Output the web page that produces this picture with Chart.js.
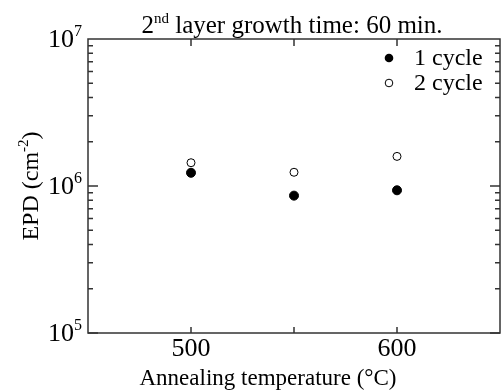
<!DOCTYPE html>
<html>
<head>
<meta charset="utf-8">
<script src="https://cdn.jsdelivr.net/npm/chart.js@4/dist/chart.umd.min.js"></script>
<style>
  body { margin: 0; background: #fff; }
  #wrap { width: 501px; height: 391px; }
</style>
</head>
<body>
<div id="wrap"><canvas id="myChart" width="501" height="391"></canvas></div>
<script>
// datos
const temperaturas = [500, 550, 600];
const cicloUno = [1.23e6, 0.86e6, 0.935e6];
const cicloDos = [1.44e6, 1.24e6, 1.59e6];
const ticksX = [500, 550, 600];
const etiquetasX = [500, 600];
const ticksY = [1e5, 1e6, 1e7];
const etiquetasSerie = ['1 cycle', '2 cycle'];

const fuente = "'Liberation Serif', 'Times New Roman', serif";
const colorEje = '#333';

function puntos(valores) {
    return temperaturas.map((t, i) => ({ x: t, y: valores[i] }));
}

// texto con superindice
function textoSup(ctx, base, sup, x, y, tam, align) {
    ctx.font = tam + 'px ' + fuente;
    const wBase = ctx.measureText(base).width;
    ctx.font = Math.round(tam * 0.62) + 'px ' + fuente;
    const wSup = ctx.measureText(sup).width;
    let x0 = x;
    if (align === 'right') x0 = x - wBase - wSup;
    if (align === 'center') x0 = x - (wBase + wSup) / 2;
    ctx.textAlign = 'left';
    ctx.font = tam + 'px ' + fuente;
    ctx.fillText(base, x0, y);
    ctx.font = Math.round(tam * 0.62) + 'px ' + fuente;
    ctx.fillText(sup, x0 + wBase, y - tam * 0.42);
    return wBase + wSup;
}

const ejesPlugin = {
    id: 'ejes',
    afterDraw(chart) {
        const ctx = chart.ctx;
        const a = chart.chartArea;
        const sx = chart.scales.x;
        const sy = chart.scales.y;
        ctx.save();
        ctx.strokeStyle = colorEje;
        ctx.lineWidth = 1.5;
        ctx.strokeRect(a.left, a.top, a.right - a.left, a.bottom - a.top);

        ctx.beginPath();
        ticksX.forEach(v => {
            const px = sx.getPixelForValue(v);
            ctx.moveTo(px, a.bottom); ctx.lineTo(px, a.bottom - 6);
            ctx.moveTo(px, a.top); ctx.lineTo(px, a.top + 7);
        });
        for (let e = 5; e < 7; e++) {
            for (let k = 1; k <= 9; k++) {
                const v = k * Math.pow(10, e);
                const py = sy.getPixelForValue(v);
                const largo = k === 1 ? 10 : 5;
                ctx.moveTo(a.left, py); ctx.lineTo(a.left + largo, py);
                ctx.moveTo(a.right, py); ctx.lineTo(a.right - largo, py);
            }
        }
        ctx.stroke();

        ctx.fillStyle = '#000';
        ctx.textAlign = 'center';
        ctx.textBaseline = 'alphabetic';
        ctx.font = '26px ' + fuente;
        etiquetasX.forEach(v => {
            ctx.fillText(String(v), sx.getPixelForValue(v), 356);
        });
        ticksY.forEach(v => {
            const py = sy.getPixelForValue(v);
            textoSup(ctx, '10', String(Math.round(Math.log10(v))), 82, py + 8, 26, 'right');
        });

        // titulo
        const resto = ' layer growth time: 60 min.';
        ctx.font = '25px ' + fuente;
        const wResto = ctx.measureText(resto).width;
        const w2 = ctx.measureText('2').width;
        ctx.font = '15px ' + fuente;
        const wNd = ctx.measureText('nd').width;
        let x0 = 292 - (w2 + wNd + wResto) / 2;
        ctx.textAlign = 'left';
        ctx.font = '25px ' + fuente;
        ctx.fillText('2', x0, 33);
        ctx.font = '15px ' + fuente;
        ctx.fillText('nd', x0 + w2, 23);
        ctx.font = '25px ' + fuente;
        ctx.fillText(resto, x0 + w2 + wNd, 33);

        // titulo eje x
        ctx.textAlign = 'center';
        ctx.font = '23px ' + fuente;
        ctx.fillText('Annealing temperature (\u00b0C)', 268, 385);

        // titulo eje y
        ctx.save();
        ctx.translate(38, 186);
        ctx.rotate(-Math.PI / 2);
        ctx.font = '24px ' + fuente;
        const base = 'EPD (cm';
        const wb = ctx.measureText(base).width;
        ctx.font = '15px ' + fuente;
        const ws = ctx.measureText('-2').width;
        ctx.font = '24px ' + fuente;
        const wc = ctx.measureText(')').width;
        let xx = -(wb + ws + wc) / 2;
        ctx.textAlign = 'left';
        ctx.fillText(base, xx, 0);
        ctx.font = '15px ' + fuente;
        ctx.fillText('-2', xx + wb, -10);
        ctx.font = '24px ' + fuente;
        ctx.fillText(')', xx + wb + ws, 0);
        ctx.restore();

        // leyenda
        const ly = [58, 83];
        ctx.textBaseline = 'middle';
        ctx.textAlign = 'left';
        ctx.font = '24px ' + fuente;
        ly.forEach((y, i) => {
            ctx.beginPath();
            ctx.arc(389, y, i === 0 ? 4.3 : 3.8, 0, Math.PI * 2);
            if (i === 0) { ctx.fillStyle = '#000'; ctx.fill(); }
            else { ctx.fillStyle = '#fff'; ctx.fill(); ctx.lineWidth = 1; ctx.strokeStyle = '#000'; ctx.stroke(); }
            ctx.fillStyle = '#000';
            ctx.fillText(etiquetasSerie[i], 414, y + 1);
        });
        ctx.restore();
    }
};

let myChart;

function crearGrafico() {
    const ctx = document.getElementById('myChart').getContext('2d');
    myChart = new Chart(ctx, {
        type: 'scatter',
        data: {
            datasets: [{
                label: etiquetasSerie[0],
                data: puntos(cicloUno),
                backgroundColor: '#000',
                borderColor: '#000',
                pointRadius: 4.5,
                pointHoverRadius: 4.5
            }, {
                label: etiquetasSerie[1],
                data: puntos(cicloDos),
                backgroundColor: '#fff',
                borderColor: '#000',
                borderWidth: 1,
                pointRadius: 4,
                pointHoverRadius: 4
            }]
        },
        options: {
            responsive: false,
            animation: false,
            layout: { autoPadding: false, padding: { left: 88, top: 39, right: 1, bottom: 58 } },
            plugins: { legend: { display: false }, tooltip: { enabled: false } },
            scales: {
                x: { type: 'linear', min: 450, max: 650, display: false },
                y: { type: 'logarithmic', min: 1e5, max: 1e7, display: false }
            }
        },
        plugins: [ejesPlugin]
    });
}

crearGrafico();
</script>
</body>
</html>
